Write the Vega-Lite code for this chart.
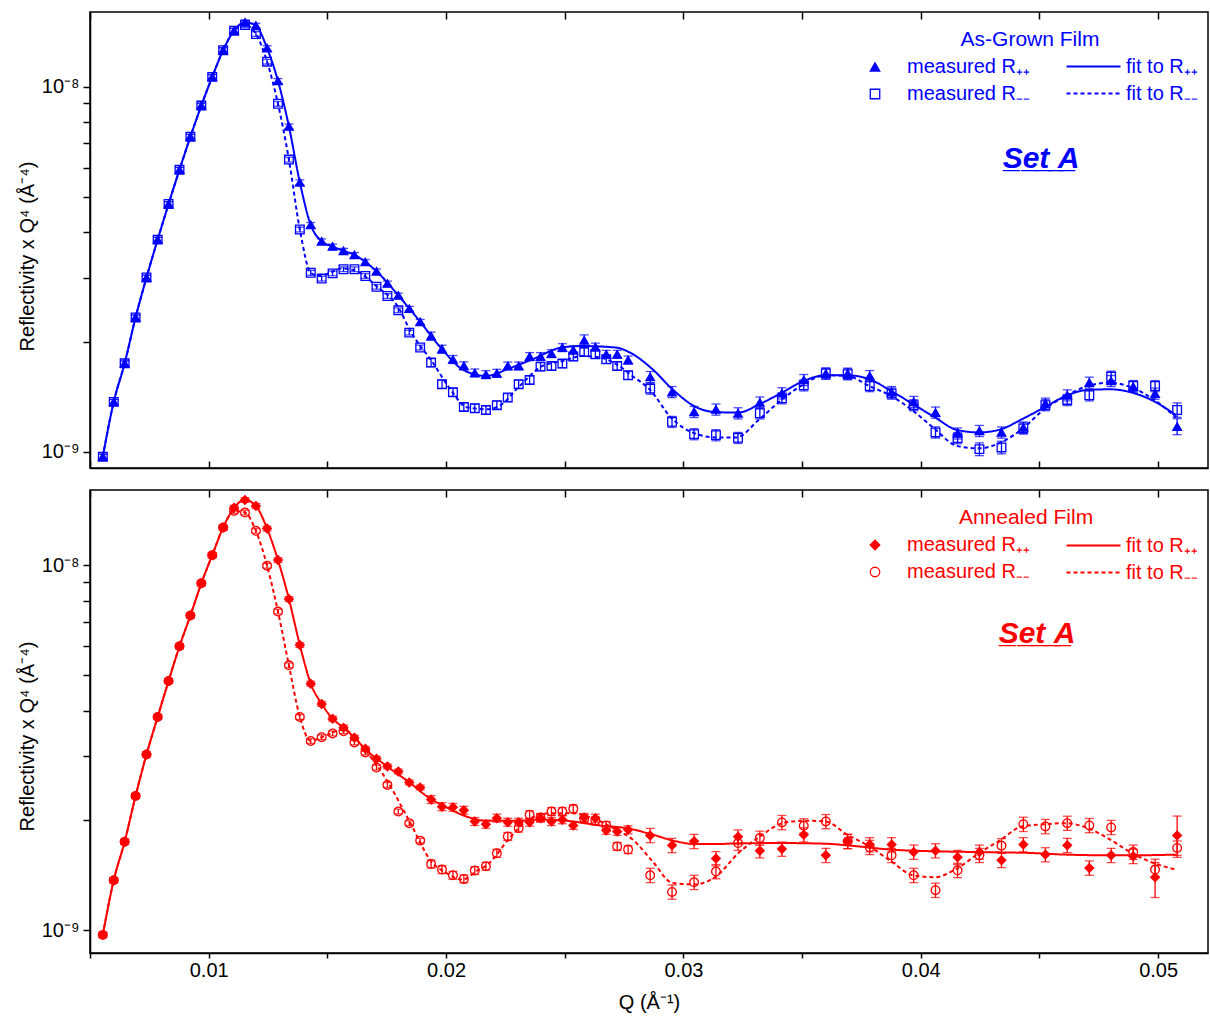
{
  "$schema": "https://vega.github.io/schema/vega-lite/v6.json",
  "padding": {"left": 16, "top": 10, "right": 0, "bottom": 3},
  "config": {
    "font": "Liberation Sans",
    "view": {"stroke": "#000000", "strokeWidth": 1.5},
    "axis": {
      "grid": false, "domainColor": "#000000", "domainWidth": 1.5,
      "tickColor": "#000000", "tickWidth": 1.5,
      "labelColor": "#000000", "titleColor": "#000000",
      "labelFont": "Liberation Sans", "titleFont": "Liberation Sans",
      "labelFontSize": 20, "titleFontSize": 20, "titleFontWeight": "normal"
    },
    "legend": {"labelFont": "Liberation Sans", "labelFontSize": 20, "labelLimit": 400}
  },
  "datasets": {
    "grown": [
      {"Q":0.00554,"s":"pp","R":9.7e-10,"e":1.5e-11},{"Q":0.00600,"s":"pp","R":1.37e-9,"e":2.1e-11},{"Q":0.00646,"s":"pp","R":1.747e-9,"e":2.6e-11},{"Q":0.00692,"s":"pp","R":2.333e-9,"e":3.5e-11},{"Q":0.00738,"s":"pp","R":3.0e-9,"e":4.5e-11},{"Q":0.00785,"s":"pp","R":3.81e-9,"e":5.7e-11},{"Q":0.00831,"s":"pp","R":4.77e-9,"e":7.2e-11},{"Q":0.00877,"s":"pp","R":5.92e-9,"e":8.9e-11},{"Q":0.00923,"s":"pp","R":7.29e-9,"e":1.09e-10},{"Q":0.00969,"s":"pp","R":8.87e-9,"e":1.33e-10},
      {"Q":0.01015,"s":"pp","R":1.063e-8,"e":1.59e-10},{"Q":0.01061,"s":"pp","R":1.258e-8,"e":1.89e-10},{"Q":0.01107,"s":"pp","R":1.422e-8,"e":2.13e-10},{"Q":0.01153,"s":"pp","R":1.5e-8,"e":2.25e-10},{"Q":0.01199,"s":"pp","R":1.468e-8,"e":2.2e-10},{"Q":0.01246,"s":"pp","R":1.274e-8,"e":1.91e-10},{"Q":0.01292,"s":"pp","R":1.036e-8,"e":1.55e-10},{"Q":0.01338,"s":"pp","R":7.78e-9,"e":1.17e-10},{"Q":0.01384,"s":"pp","R":5.47e-9,"e":8.2e-11},{"Q":0.01430,"s":"pp","R":4.18e-9,"e":6.3e-11},
      {"Q":0.01476,"s":"pp","R":3.77e-9,"e":5.7e-11},{"Q":0.01522,"s":"pp","R":3.65e-9,"e":5.5e-11},{"Q":0.01568,"s":"pp","R":3.55e-9,"e":5.3e-11},{"Q":0.01614,"s":"pp","R":3.46e-9,"e":5.2e-11},{"Q":0.01660,"s":"pp","R":3.31e-9,"e":5.0e-11},{"Q":0.01707,"s":"pp","R":3.12e-9,"e":4.7e-11},{"Q":0.01753,"s":"pp","R":2.89e-9,"e":4.3e-11},{"Q":0.01799,"s":"pp","R":2.68e-9,"e":4.0e-11},{"Q":0.01845,"s":"pp","R":2.465e-9,"e":3.7e-11},{"Q":0.01891,"s":"pp","R":2.27e-9,"e":3.4e-11},
      {"Q":0.01937,"s":"pp","R":2.075e-9,"e":5.2e-11},{"Q":0.01983,"s":"pp","R":1.91e-9,"e":4.8e-11},{"Q":0.02029,"s":"pp","R":1.79e-9,"e":4.5e-11},{"Q":0.02075,"s":"pp","R":1.72e-9,"e":4.3e-11},{"Q":0.02121,"s":"pp","R":1.644e-9,"e":4.1e-11},{"Q":0.02168,"s":"pp","R":1.627e-9,"e":4.1e-11},{"Q":0.02214,"s":"pp","R":1.641e-9,"e":4.1e-11},{"Q":0.02260,"s":"pp","R":1.718e-9,"e":4.3e-11},{"Q":0.02306,"s":"pp","R":1.718e-9,"e":4.3e-11},{"Q":0.02352,"s":"pp","R":1.823e-9,"e":4.6e-11},
      {"Q":0.02398,"s":"pp","R":1.823e-9,"e":4.6e-11},{"Q":0.02444,"s":"pp","R":1.857e-9,"e":4.6e-11},{"Q":0.02490,"s":"pp","R":1.929e-9,"e":4.8e-11},{"Q":0.02536,"s":"pp","R":1.9e-9,"e":4.8e-11},{"Q":0.02582,"s":"pp","R":2.02e-9,"e":7.0e-11},{"Q":0.02629,"s":"pp","R":1.936e-9,"e":4.8e-11},{"Q":0.02675,"s":"pp","R":1.849e-9,"e":4.6e-11},{"Q":0.02721,"s":"pp","R":1.849e-9,"e":4.6e-11},{"Q":0.02767,"s":"pp","R":1.784e-9,"e":4.5e-11},
      {"Q":0.02860,"s":"pp","R":1.603e-9,"e":5.6e-11},{"Q":0.02952,"s":"pp","R":1.458e-9,"e":5.1e-11},{"Q":0.03045,"s":"pp","R":1.286e-9,"e":4.5e-11},{"Q":0.03137,"s":"pp","R":1.306e-9,"e":4.6e-11},{"Q":0.03230,"s":"pp","R":1.275e-9,"e":4.5e-11},{"Q":0.03322,"s":"pp","R":1.365e-9,"e":4.8e-11},{"Q":0.03415,"s":"pp","R":1.447e-9,"e":5.1e-11},{"Q":0.03507,"s":"pp","R":1.573e-9,"e":5.5e-11},{"Q":0.03600,"s":"pp","R":1.638e-9,"e":5.7e-11},{"Q":0.03692,"s":"pp","R":1.638e-9,"e":5.7e-11},
      {"Q":0.03785,"s":"pp","R":1.613e-9,"e":5.6e-11},{"Q":0.03877,"s":"pp","R":1.458e-9,"e":5.1e-11},{"Q":0.03970,"s":"pp","R":1.37e-9,"e":4.8e-11},{"Q":0.04062,"s":"pp","R":1.281e-9,"e":4.5e-11},{"Q":0.04155,"s":"pp","R":1.123e-9,"e":3.9e-11},{"Q":0.04247,"s":"pp","R":1.141e-9,"e":4.0e-11},{"Q":0.04340,"s":"pp","R":1.13e-9,"e":4.0e-11},{"Q":0.04432,"s":"pp","R":1.166e-9,"e":4.1e-11},{"Q":0.04525,"s":"pp","R":1.356e-9,"e":4.7e-11},{"Q":0.04617,"s":"pp","R":1.428e-9,"e":5.0e-11},
      {"Q":0.04710,"s":"pp","R":1.547e-9,"e":5.4e-11},{"Q":0.04802,"s":"pp","R":1.563e-9,"e":5.5e-11},{"Q":0.04895,"s":"pp","R":1.509e-9,"e":5.3e-11},{"Q":0.04987,"s":"pp","R":1.444e-9,"e":5.1e-11},{"Q":0.05080,"s":"pp","R":1.173e-9,"e":5.9e-11},

      {"Q":0.00554,"s":"mm","R":9.7e-10,"e":1.5e-11},{"Q":0.00600,"s":"mm","R":1.37e-9,"e":2.1e-11},{"Q":0.00646,"s":"mm","R":1.747e-9,"e":2.6e-11},{"Q":0.00692,"s":"mm","R":2.333e-9,"e":3.5e-11},{"Q":0.00738,"s":"mm","R":3.0e-9,"e":4.5e-11},{"Q":0.00785,"s":"mm","R":3.81e-9,"e":5.7e-11},{"Q":0.00831,"s":"mm","R":4.77e-9,"e":7.2e-11},{"Q":0.00877,"s":"mm","R":5.92e-9,"e":8.9e-11},{"Q":0.00923,"s":"mm","R":7.29e-9,"e":1.09e-10},{"Q":0.00969,"s":"mm","R":8.87e-9,"e":1.33e-10},
      {"Q":0.01015,"s":"mm","R":1.063e-8,"e":1.59e-10},{"Q":0.01061,"s":"mm","R":1.258e-8,"e":1.89e-10},{"Q":0.01107,"s":"mm","R":1.422e-8,"e":2.13e-10},{"Q":0.01153,"s":"mm","R":1.475e-8,"e":2.21e-10},{"Q":0.01199,"s":"mm","R":1.393e-8,"e":2.09e-10},{"Q":0.01246,"s":"mm","R":1.17e-8,"e":1.76e-10},{"Q":0.01292,"s":"mm","R":8.97e-9,"e":1.35e-10},{"Q":0.01338,"s":"mm","R":6.31e-9,"e":9.5e-11},{"Q":0.01384,"s":"mm","R":4.06e-9,"e":6.1e-11},{"Q":0.01430,"s":"mm","R":3.09e-9,"e":4.6e-11},
      {"Q":0.01476,"s":"mm","R":2.98e-9,"e":4.5e-11},{"Q":0.01522,"s":"mm","R":3.08e-9,"e":4.6e-11},{"Q":0.01568,"s":"mm","R":3.16e-9,"e":4.7e-11},{"Q":0.01614,"s":"mm","R":3.16e-9,"e":4.7e-11},{"Q":0.01660,"s":"mm","R":3.03e-9,"e":4.5e-11},{"Q":0.01707,"s":"mm","R":2.83e-9,"e":4.2e-11},{"Q":0.01753,"s":"mm","R":2.67e-9,"e":4.0e-11},{"Q":0.01799,"s":"mm","R":2.44e-9,"e":3.7e-11},{"Q":0.01845,"s":"mm","R":2.12e-9,"e":3.2e-11},{"Q":0.01891,"s":"mm","R":1.93e-9,"e":2.9e-11},
      {"Q":0.01937,"s":"mm","R":1.755e-9,"e":4.4e-11},{"Q":0.01983,"s":"mm","R":1.531e-9,"e":3.8e-11},{"Q":0.02029,"s":"mm","R":1.456e-9,"e":3.6e-11},{"Q":0.02075,"s":"mm","R":1.327e-9,"e":3.3e-11},{"Q":0.02121,"s":"mm","R":1.316e-9,"e":3.3e-11},{"Q":0.02168,"s":"mm","R":1.302e-9,"e":3.3e-11},{"Q":0.02214,"s":"mm","R":1.342e-9,"e":3.4e-11},{"Q":0.02260,"s":"mm","R":1.408e-9,"e":3.5e-11},{"Q":0.02306,"s":"mm","R":1.531e-9,"e":3.8e-11},{"Q":0.02352,"s":"mm","R":1.573e-9,"e":3.9e-11},
      {"Q":0.02398,"s":"mm","R":1.711e-9,"e":4.3e-11},{"Q":0.02444,"s":"mm","R":1.718e-9,"e":4.3e-11},{"Q":0.02490,"s":"mm","R":1.744e-9,"e":4.4e-11},{"Q":0.02536,"s":"mm","R":1.823e-9,"e":4.6e-11},{"Q":0.02582,"s":"mm","R":1.876e-9,"e":4.7e-11},{"Q":0.02629,"s":"mm","R":1.849e-9,"e":4.6e-11},{"Q":0.02675,"s":"mm","R":1.792e-9,"e":4.5e-11},{"Q":0.02721,"s":"mm","R":1.718e-9,"e":4.3e-11},{"Q":0.02767,"s":"mm","R":1.62e-9,"e":4.1e-11},
      {"Q":0.02860,"s":"mm","R":1.49e-9,"e":5.2e-11},{"Q":0.02952,"s":"mm","R":1.208e-9,"e":4.2e-11},{"Q":0.03045,"s":"mm","R":1.118e-9,"e":3.9e-11},{"Q":0.03137,"s":"mm","R":1.111e-9,"e":3.9e-11},{"Q":0.03230,"s":"mm","R":1.092e-9,"e":3.8e-11},{"Q":0.03322,"s":"mm","R":1.275e-9,"e":4.5e-11},{"Q":0.03415,"s":"mm","R":1.402e-9,"e":4.9e-11},{"Q":0.03507,"s":"mm","R":1.521e-9,"e":5.3e-11},{"Q":0.03600,"s":"mm","R":1.638e-9,"e":5.7e-11},{"Q":0.03692,"s":"mm","R":1.631e-9,"e":5.7e-11},
      {"Q":0.03785,"s":"mm","R":1.514e-9,"e":5.3e-11},{"Q":0.03877,"s":"mm","R":1.444e-9,"e":5.1e-11},{"Q":0.03970,"s":"mm","R":1.342e-9,"e":4.7e-11},{"Q":0.04062,"s":"mm","R":1.13e-9,"e":4.0e-11},{"Q":0.04155,"s":"mm","R":1.09e-9,"e":3.8e-11},{"Q":0.04247,"s":"mm","R":1.017e-9,"e":4.1e-11},{"Q":0.04340,"s":"mm","R":1.028e-9,"e":4.1e-11},{"Q":0.04432,"s":"mm","R":1.159e-9,"e":4.1e-11},{"Q":0.04525,"s":"mm","R":1.342e-9,"e":4.7e-11},{"Q":0.04617,"s":"mm","R":1.387e-9,"e":4.9e-11},
      {"Q":0.04710,"s":"mm","R":1.428e-9,"e":5.0e-11},{"Q":0.04802,"s":"mm","R":1.607e-9,"e":5.6e-11},{"Q":0.04895,"s":"mm","R":1.514e-9,"e":5.3e-11},{"Q":0.04987,"s":"mm","R":1.514e-9,"e":5.3e-11},{"Q":0.05080,"s":"mm","R":1.302e-9,"e":5.9e-11}
    ],
    "grownFit": [
      {"Q":0.00554,"f":"fpp","R":9.7e-10},{"Q":0.00600,"f":"fpp","R":1.37e-9},{"Q":0.00646,"f":"fpp","R":1.747e-9},{"Q":0.00692,"f":"fpp","R":2.333e-9},{"Q":0.00738,"f":"fpp","R":3.0e-9},{"Q":0.00785,"f":"fpp","R":3.81e-9},{"Q":0.00831,"f":"fpp","R":4.77e-9},{"Q":0.00877,"f":"fpp","R":5.92e-9},{"Q":0.00923,"f":"fpp","R":7.29e-9},{"Q":0.00969,"f":"fpp","R":8.87e-9},
      {"Q":0.01015,"f":"fpp","R":1.063e-8},{"Q":0.01061,"f":"fpp","R":1.258e-8},{"Q":0.01107,"f":"fpp","R":1.422e-8},{"Q":0.01153,"f":"fpp","R":1.5e-8},{"Q":0.01199,"f":"fpp","R":1.468e-8},{"Q":0.01246,"f":"fpp","R":1.274e-8},{"Q":0.01292,"f":"fpp","R":1.036e-8},{"Q":0.01338,"f":"fpp","R":7.78e-9},{"Q":0.01384,"f":"fpp","R":5.47e-9},{"Q":0.01430,"f":"fpp","R":4.18e-9},
      {"Q":0.01476,"f":"fpp","R":3.77e-9},{"Q":0.01522,"f":"fpp","R":3.65e-9},{"Q":0.01568,"f":"fpp","R":3.55e-9},{"Q":0.01614,"f":"fpp","R":3.46e-9},{"Q":0.01707,"f":"fpp","R":3.12e-9},{"Q":0.01799,"f":"fpp","R":2.68e-9},{"Q":0.01891,"f":"fpp","R":2.27e-9},{"Q":0.01983,"f":"fpp","R":1.91e-9},{"Q":0.02075,"f":"fpp","R":1.672e-9},{"Q":0.02169,"f":"fpp","R":1.613e-9},
      {"Q":0.02267,"f":"fpp","R":1.693e-9},{"Q":0.02364,"f":"fpp","R":1.792e-9},{"Q":0.02491,"f":"fpp","R":1.932e-9},{"Q":0.02575,"f":"fpp","R":1.948e-9},{"Q":0.02717,"f":"fpp","R":1.929e-9},{"Q":0.02773,"f":"fpp","R":1.872e-9},{"Q":0.02870,"f":"fpp","R":1.683e-9},{"Q":0.02954,"f":"fpp","R":1.483e-9},{"Q":0.03054,"f":"fpp","R":1.325e-9},{"Q":0.03138,"f":"fpp","R":1.284e-9},
      {"Q":0.03232,"f":"fpp","R":1.281e-9},{"Q":0.03320,"f":"fpp","R":1.35e-9},{"Q":0.03416,"f":"fpp","R":1.453e-9},{"Q":0.03507,"f":"fpp","R":1.563e-9},{"Q":0.03598,"f":"fpp","R":1.62e-9},{"Q":0.03691,"f":"fpp","R":1.62e-9},{"Q":0.03783,"f":"fpp","R":1.58e-9},{"Q":0.03875,"f":"fpp","R":1.468e-9},{"Q":0.03968,"f":"fpp","R":1.35e-9},{"Q":0.04060,"f":"fpp","R":1.242e-9},
      {"Q":0.04152,"f":"fpp","R":1.148e-9},{"Q":0.04246,"f":"fpp","R":1.13e-9},{"Q":0.04338,"f":"fpp","R":1.153e-9},{"Q":0.04426,"f":"fpp","R":1.228e-9},{"Q":0.04520,"f":"fpp","R":1.322e-9},{"Q":0.04611,"f":"fpp","R":1.422e-9},{"Q":0.04702,"f":"fpp","R":1.477e-9},{"Q":0.04798,"f":"fpp","R":1.483e-9},{"Q":0.04889,"f":"fpp","R":1.453e-9},{"Q":0.04980,"f":"fpp","R":1.378e-9},{"Q":0.05075,"f":"fpp","R":1.26e-9},

      {"Q":0.00554,"f":"fmm","R":9.7e-10},{"Q":0.00600,"f":"fmm","R":1.37e-9},{"Q":0.00646,"f":"fmm","R":1.747e-9},{"Q":0.00692,"f":"fmm","R":2.333e-9},{"Q":0.00738,"f":"fmm","R":3.0e-9},{"Q":0.00785,"f":"fmm","R":3.81e-9},{"Q":0.00831,"f":"fmm","R":4.77e-9},{"Q":0.00877,"f":"fmm","R":5.92e-9},{"Q":0.00923,"f":"fmm","R":7.29e-9},{"Q":0.00969,"f":"fmm","R":8.87e-9},
      {"Q":0.01015,"f":"fmm","R":1.063e-8},{"Q":0.01061,"f":"fmm","R":1.258e-8},{"Q":0.01107,"f":"fmm","R":1.422e-8},{"Q":0.01153,"f":"fmm","R":1.475e-8},{"Q":0.01199,"f":"fmm","R":1.393e-8},{"Q":0.01246,"f":"fmm","R":1.17e-8},{"Q":0.01292,"f":"fmm","R":8.97e-9},{"Q":0.01338,"f":"fmm","R":6.31e-9},{"Q":0.01384,"f":"fmm","R":4.06e-9},{"Q":0.01430,"f":"fmm","R":3.09e-9},
      {"Q":0.01467,"f":"fmm","R":3.03e-9},{"Q":0.01564,"f":"fmm","R":3.176e-9},{"Q":0.01623,"f":"fmm","R":3.123e-9},{"Q":0.01707,"f":"fmm","R":2.842e-9},{"Q":0.01804,"f":"fmm","R":2.454e-9},{"Q":0.01846,"f":"fmm","R":2.164e-9},{"Q":0.01943,"f":"fmm","R":1.759e-9},{"Q":0.02027,"f":"fmm","R":1.456e-9},{"Q":0.02086,"f":"fmm","R":1.325e-9},{"Q":0.02171,"f":"fmm","R":1.308e-9},
      {"Q":0.02225,"f":"fmm","R":1.336e-9},{"Q":0.02310,"f":"fmm","R":1.514e-9},{"Q":0.02406,"f":"fmm","R":1.718e-9},{"Q":0.02491,"f":"fmm","R":1.773e-9},{"Q":0.02575,"f":"fmm","R":1.829e-9},{"Q":0.02646,"f":"fmm","R":1.814e-9},{"Q":0.02718,"f":"fmm","R":1.736e-9},{"Q":0.02785,"f":"fmm","R":1.613e-9},{"Q":0.02857,"f":"fmm","R":1.483e-9},{"Q":0.02954,"f":"fmm","R":1.228e-9},
      {"Q":0.03038,"f":"fmm","R":1.13e-9},{"Q":0.03138,"f":"fmm","R":1.095e-9},{"Q":0.03222,"f":"fmm","R":1.095e-9},{"Q":0.03320,"f":"fmm","R":1.228e-9},{"Q":0.03416,"f":"fmm","R":1.393e-9},{"Q":0.03507,"f":"fmm","R":1.531e-9},{"Q":0.03598,"f":"fmm","R":1.62e-9},{"Q":0.03691,"f":"fmm","R":1.613e-9},{"Q":0.03783,"f":"fmm","R":1.514e-9},{"Q":0.03875,"f":"fmm","R":1.422e-9},
      {"Q":0.03968,"f":"fmm","R":1.294e-9},{"Q":0.04060,"f":"fmm","R":1.153e-9},{"Q":0.04152,"f":"fmm","R":1.038e-9},{"Q":0.04246,"f":"fmm","R":1.022e-9},{"Q":0.04338,"f":"fmm","R":1.061e-9},{"Q":0.04426,"f":"fmm","R":1.153e-9},{"Q":0.04520,"f":"fmm","R":1.308e-9},{"Q":0.04611,"f":"fmm","R":1.422e-9},{"Q":0.04702,"f":"fmm","R":1.514e-9},{"Q":0.04798,"f":"fmm","R":1.547e-9},
      {"Q":0.04889,"f":"fmm","R":1.5e-9},{"Q":0.04980,"f":"fmm","R":1.393e-9},{"Q":0.05075,"f":"fmm","R":1.242e-9}
    ],
    "annealed": [
      {"Q":0.00554,"s":"pp","R":9.7e-10,"e":1.5e-11},{"Q":0.00600,"s":"pp","R":1.37e-9,"e":2.1e-11},{"Q":0.00646,"s":"pp","R":1.747e-9,"e":2.6e-11},{"Q":0.00692,"s":"pp","R":2.333e-9,"e":3.5e-11},{"Q":0.00738,"s":"pp","R":3.03e-9,"e":4.5e-11},{"Q":0.00785,"s":"pp","R":3.84e-9,"e":5.8e-11},{"Q":0.00831,"s":"pp","R":4.82e-9,"e":7.2e-11},{"Q":0.00877,"s":"pp","R":6.0e-9,"e":9.0e-11},{"Q":0.00923,"s":"pp","R":7.29e-9,"e":1.09e-10},{"Q":0.00969,"s":"pp","R":8.93e-9,"e":1.34e-10},
      {"Q":0.01015,"s":"pp","R":1.067e-8,"e":1.6e-10},{"Q":0.01061,"s":"pp","R":1.27e-8,"e":1.9e-10},{"Q":0.01107,"s":"pp","R":1.44e-8,"e":2.16e-10},{"Q":0.01153,"s":"pp","R":1.512e-8,"e":2.27e-10},{"Q":0.01199,"s":"pp","R":1.456e-8,"e":2.18e-10},{"Q":0.01246,"s":"pp","R":1.262e-8,"e":1.89e-10},{"Q":0.01292,"s":"pp","R":1.034e-8,"e":1.55e-10},{"Q":0.01338,"s":"pp","R":8.09e-9,"e":1.21e-10},{"Q":0.01384,"s":"pp","R":6.05e-9,"e":9.1e-11},{"Q":0.01430,"s":"pp","R":4.74e-9,"e":7.1e-11},
      {"Q":0.01476,"s":"pp","R":4.17e-9,"e":6.3e-11},{"Q":0.01522,"s":"pp","R":3.8e-9,"e":5.7e-11},{"Q":0.01568,"s":"pp","R":3.59e-9,"e":5.4e-11},{"Q":0.01614,"s":"pp","R":3.37e-9,"e":5.1e-11},{"Q":0.01660,"s":"pp","R":3.14e-9,"e":4.7e-11},{"Q":0.01707,"s":"pp","R":2.95e-9,"e":4.4e-11},{"Q":0.01753,"s":"pp","R":2.81e-9,"e":4.2e-11},{"Q":0.01799,"s":"pp","R":2.72e-9,"e":4.1e-11},{"Q":0.01845,"s":"pp","R":2.54e-9,"e":3.8e-11},{"Q":0.01891,"s":"pp","R":2.46e-9,"e":3.7e-11},
      {"Q":0.01937,"s":"pp","R":2.28e-9,"e":5.7e-11},{"Q":0.01983,"s":"pp","R":2.18e-9,"e":5.5e-11},{"Q":0.02029,"s":"pp","R":2.17e-9,"e":5.4e-11},{"Q":0.02075,"s":"pp","R":2.13e-9,"e":5.3e-11},{"Q":0.02121,"s":"pp","R":1.985e-9,"e":5.0e-11},{"Q":0.02168,"s":"pp","R":1.951e-9,"e":4.9e-11},{"Q":0.02214,"s":"pp","R":2.027e-9,"e":5.1e-11},{"Q":0.02260,"s":"pp","R":1.976e-9,"e":4.9e-11},{"Q":0.02306,"s":"pp","R":1.976e-9,"e":4.9e-11},{"Q":0.02352,"s":"pp","R":1.976e-9,"e":4.9e-11},
      {"Q":0.02398,"s":"pp","R":2.027e-9,"e":5.1e-11},{"Q":0.02444,"s":"pp","R":1.985e-9,"e":5.0e-11},{"Q":0.02490,"s":"pp","R":2.007e-9,"e":5.0e-11},{"Q":0.02536,"s":"pp","R":1.936e-9,"e":4.8e-11},{"Q":0.02582,"s":"pp","R":2.036e-9,"e":5.1e-11},{"Q":0.02629,"s":"pp","R":2.027e-9,"e":5.1e-11},{"Q":0.02675,"s":"pp","R":1.876e-9,"e":4.7e-11},{"Q":0.02721,"s":"pp","R":1.864e-9,"e":4.7e-11},{"Q":0.02767,"s":"pp","R":1.884e-9,"e":4.7e-11},
      {"Q":0.02860,"s":"pp","R":1.818e-9,"e":8.2e-11},{"Q":0.02952,"s":"pp","R":1.707e-9,"e":7.7e-11},{"Q":0.03045,"s":"pp","R":1.751e-9,"e":7.9e-11},{"Q":0.03137,"s":"pp","R":1.57e-9,"e":7.1e-11},{"Q":0.03230,"s":"pp","R":1.801e-9,"e":8.1e-11},{"Q":0.03322,"s":"pp","R":1.651e-9,"e":7.4e-11},{"Q":0.03415,"s":"pp","R":1.668e-9,"e":7.5e-11},{"Q":0.03507,"s":"pp","R":1.826e-9,"e":8.2e-11},{"Q":0.03600,"s":"pp","R":1.603e-9,"e":7.2e-11},{"Q":0.03692,"s":"pp","R":1.751e-9,"e":7.9e-11},
      {"Q":0.03785,"s":"pp","R":1.715e-9,"e":7.7e-11},{"Q":0.03877,"s":"pp","R":1.715e-9,"e":7.7e-11},{"Q":0.03970,"s":"pp","R":1.636e-9,"e":7.4e-11},{"Q":0.04062,"s":"pp","R":1.651e-9,"e":7.4e-11},{"Q":0.04155,"s":"pp","R":1.583e-9,"e":7.1e-11},{"Q":0.04247,"s":"pp","R":1.636e-9,"e":7.4e-11},{"Q":0.04340,"s":"pp","R":1.553e-9,"e":7.0e-11},{"Q":0.04432,"s":"pp","R":1.715e-9,"e":7.7e-11},{"Q":0.04525,"s":"pp","R":1.61e-9,"e":7.2e-11},{"Q":0.04617,"s":"pp","R":1.707e-9,"e":7.7e-11},
      {"Q":0.04710,"s":"pp","R":1.48e-9,"e":6.7e-11},{"Q":0.04802,"s":"pp","R":1.603e-9,"e":7.2e-11},{"Q":0.04895,"s":"pp","R":1.593e-9,"e":7.2e-11},{"Q":0.04987,"s":"pp","R":1.396e-9,"e":1.68e-10},{"Q":0.05080,"s":"pp","R":1.818e-9,"e":2.36e-10},

      {"Q":0.00554,"s":"mm","R":9.7e-10,"e":1.5e-11},{"Q":0.00600,"s":"mm","R":1.37e-9,"e":2.1e-11},{"Q":0.00646,"s":"mm","R":1.747e-9,"e":2.6e-11},{"Q":0.00692,"s":"mm","R":2.333e-9,"e":3.5e-11},{"Q":0.00738,"s":"mm","R":3.03e-9,"e":4.5e-11},{"Q":0.00785,"s":"mm","R":3.84e-9,"e":5.8e-11},{"Q":0.00831,"s":"mm","R":4.82e-9,"e":7.2e-11},{"Q":0.00877,"s":"mm","R":6.0e-9,"e":9.0e-11},{"Q":0.00923,"s":"mm","R":7.29e-9,"e":1.09e-10},{"Q":0.00969,"s":"mm","R":8.93e-9,"e":1.34e-10},
      {"Q":0.01015,"s":"mm","R":1.067e-8,"e":1.6e-10},{"Q":0.01061,"s":"mm","R":1.27e-8,"e":1.9e-10},{"Q":0.01107,"s":"mm","R":1.411e-8,"e":2.12e-10},{"Q":0.01153,"s":"mm","R":1.396e-8,"e":2.09e-10},{"Q":0.01199,"s":"mm","R":1.244e-8,"e":1.87e-10},{"Q":0.01246,"s":"mm","R":9.98e-9,"e":1.5e-10},{"Q":0.01292,"s":"mm","R":7.47e-9,"e":1.12e-10},{"Q":0.01338,"s":"mm","R":5.32e-9,"e":8.0e-11},{"Q":0.01384,"s":"mm","R":3.84e-9,"e":5.8e-11},{"Q":0.01430,"s":"mm","R":3.3e-9,"e":5.0e-11},
      {"Q":0.01476,"s":"mm","R":3.38e-9,"e":5.1e-11},{"Q":0.01522,"s":"mm","R":3.46e-9,"e":5.2e-11},{"Q":0.01568,"s":"mm","R":3.51e-9,"e":5.3e-11},{"Q":0.01614,"s":"mm","R":3.27e-9,"e":4.9e-11},{"Q":0.01660,"s":"mm","R":3.07e-9,"e":4.6e-11},{"Q":0.01707,"s":"mm","R":2.79e-9,"e":4.2e-11},{"Q":0.01753,"s":"mm","R":2.5e-9,"e":3.8e-11},{"Q":0.01799,"s":"mm","R":2.114e-9,"e":3.2e-11},{"Q":0.01845,"s":"mm","R":1.964e-9,"e":2.9e-11},{"Q":0.01891,"s":"mm","R":1.759e-9,"e":2.6e-11},
      {"Q":0.01937,"s":"mm","R":1.517e-9,"e":3.8e-11},{"Q":0.01983,"s":"mm","R":1.465e-9,"e":3.7e-11},{"Q":0.02029,"s":"mm","R":1.413e-9,"e":3.5e-11},{"Q":0.02075,"s":"mm","R":1.381e-9,"e":3.5e-11},{"Q":0.02121,"s":"mm","R":1.456e-9,"e":3.6e-11},{"Q":0.02168,"s":"mm","R":1.496e-9,"e":3.7e-11},{"Q":0.02214,"s":"mm","R":1.623e-9,"e":4.1e-11},{"Q":0.02260,"s":"mm","R":1.806e-9,"e":4.5e-11},{"Q":0.02306,"s":"mm","R":1.904e-9,"e":4.8e-11},{"Q":0.02352,"s":"mm","R":2.071e-9,"e":5.2e-11},
      {"Q":0.02398,"s":"mm","R":2.036e-9,"e":5.1e-11},{"Q":0.02444,"s":"mm","R":2.114e-9,"e":5.3e-11},{"Q":0.02490,"s":"mm","R":2.114e-9,"e":5.3e-11},{"Q":0.02536,"s":"mm","R":2.15e-9,"e":5.4e-11},{"Q":0.02582,"s":"mm","R":2.02e-9,"e":5.1e-11},{"Q":0.02629,"s":"mm","R":1.994e-9,"e":5.0e-11},{"Q":0.02675,"s":"mm","R":1.936e-9,"e":4.8e-11},{"Q":0.02721,"s":"mm","R":1.696e-9,"e":4.2e-11},{"Q":0.02767,"s":"mm","R":1.662e-9,"e":4.2e-11},
      {"Q":0.02860,"s":"mm","R":1.413e-9,"e":6.4e-11},{"Q":0.02952,"s":"mm","R":1.272e-9,"e":5.7e-11},{"Q":0.03045,"s":"mm","R":1.352e-9,"e":6.1e-11},{"Q":0.03137,"s":"mm","R":1.447e-9,"e":6.5e-11},{"Q":0.03230,"s":"mm","R":1.732e-9,"e":7.8e-11},{"Q":0.03322,"s":"mm","R":1.787e-9,"e":8.0e-11},{"Q":0.03415,"s":"mm","R":1.973e-9,"e":8.9e-11},{"Q":0.03507,"s":"mm","R":1.932e-9,"e":8.7e-11},{"Q":0.03600,"s":"mm","R":1.985e-9,"e":8.9e-11},{"Q":0.03692,"s":"mm","R":1.751e-9,"e":7.9e-11},
      {"Q":0.03785,"s":"mm","R":1.686e-9,"e":7.6e-11},{"Q":0.03877,"s":"mm","R":1.603e-9,"e":7.2e-11},{"Q":0.03970,"s":"mm","R":1.413e-9,"e":6.4e-11},{"Q":0.04062,"s":"mm","R":1.286e-9,"e":5.8e-11},{"Q":0.04155,"s":"mm","R":1.458e-9,"e":6.6e-11},{"Q":0.04247,"s":"mm","R":1.603e-9,"e":7.2e-11},{"Q":0.04340,"s":"mm","R":1.704e-9,"e":7.7e-11},{"Q":0.04432,"s":"mm","R":1.951e-9,"e":8.8e-11},{"Q":0.04525,"s":"mm","R":1.924e-9,"e":8.7e-11},{"Q":0.04617,"s":"mm","R":1.964e-9,"e":8.8e-11},
      {"Q":0.04710,"s":"mm","R":1.936e-9,"e":8.7e-11},{"Q":0.04802,"s":"mm","R":1.912e-9,"e":8.6e-11},{"Q":0.04895,"s":"mm","R":1.636e-9,"e":7.4e-11},{"Q":0.04987,"s":"mm","R":1.465e-9,"e":6.6e-11},{"Q":0.05080,"s":"mm","R":1.679e-9,"e":7.6e-11}
    ],
    "annealedFit": [
      {"Q":0.00554,"f":"fpp","R":9.7e-10},{"Q":0.00600,"f":"fpp","R":1.37e-9},{"Q":0.00646,"f":"fpp","R":1.747e-9},{"Q":0.00692,"f":"fpp","R":2.333e-9},{"Q":0.00738,"f":"fpp","R":3.03e-9},{"Q":0.00785,"f":"fpp","R":3.84e-9},{"Q":0.00831,"f":"fpp","R":4.82e-9},{"Q":0.00877,"f":"fpp","R":6.0e-9},{"Q":0.00923,"f":"fpp","R":7.29e-9},{"Q":0.00969,"f":"fpp","R":8.93e-9},
      {"Q":0.01015,"f":"fpp","R":1.067e-8},{"Q":0.01061,"f":"fpp","R":1.27e-8},{"Q":0.01107,"f":"fpp","R":1.44e-8},{"Q":0.01153,"f":"fpp","R":1.512e-8},{"Q":0.01199,"f":"fpp","R":1.456e-8},{"Q":0.01246,"f":"fpp","R":1.262e-8},{"Q":0.01292,"f":"fpp","R":1.034e-8},{"Q":0.01338,"f":"fpp","R":8.09e-9},{"Q":0.01384,"f":"fpp","R":6.05e-9},{"Q":0.01430,"f":"fpp","R":4.74e-9},
      {"Q":0.01476,"f":"fpp","R":4.17e-9},{"Q":0.01522,"f":"fpp","R":3.8e-9},{"Q":0.01568,"f":"fpp","R":3.59e-9},{"Q":0.01614,"f":"fpp","R":3.37e-9},{"Q":0.01660,"f":"fpp","R":3.136e-9},{"Q":0.01753,"f":"fpp","R":2.806e-9},{"Q":0.01845,"f":"fpp","R":2.542e-9},{"Q":0.01937,"f":"fpp","R":2.284e-9},{"Q":0.01987,"f":"fpp","R":2.195e-9},{"Q":0.02085,"f":"fpp","R":2.049e-9},
      {"Q":0.02169,"f":"fpp","R":1.994e-9},{"Q":0.02281,"f":"fpp","R":1.994e-9},{"Q":0.02408,"f":"fpp","R":2.007e-9},{"Q":0.02506,"f":"fpp","R":1.994e-9},{"Q":0.02646,"f":"fpp","R":1.936e-9},{"Q":0.02773,"f":"fpp","R":1.896e-9},{"Q":0.02871,"f":"fpp","R":1.826e-9},{"Q":0.02969,"f":"fpp","R":1.751e-9},{"Q":0.03048,"f":"fpp","R":1.721e-9},{"Q":0.03138,"f":"fpp","R":1.721e-9},
      {"Q":0.03232,"f":"fpp","R":1.729e-9},{"Q":0.03418,"f":"fpp","R":1.732e-9},{"Q":0.03598,"f":"fpp","R":1.725e-9},{"Q":0.03691,"f":"fpp","R":1.707e-9},{"Q":0.03875,"f":"fpp","R":1.662e-9},{"Q":0.04060,"f":"fpp","R":1.644e-9},{"Q":0.04246,"f":"fpp","R":1.636e-9},{"Q":0.04471,"f":"fpp","R":1.626e-9},{"Q":0.04611,"f":"fpp","R":1.61e-9},{"Q":0.04798,"f":"fpp","R":1.603e-9},{"Q":0.04889,"f":"fpp","R":1.603e-9},{"Q":0.05075,"f":"fpp","R":1.61e-9},

      {"Q":0.00554,"f":"fmm","R":9.7e-10},{"Q":0.00600,"f":"fmm","R":1.37e-9},{"Q":0.00646,"f":"fmm","R":1.747e-9},{"Q":0.00692,"f":"fmm","R":2.333e-9},{"Q":0.00738,"f":"fmm","R":3.03e-9},{"Q":0.00785,"f":"fmm","R":3.84e-9},{"Q":0.00831,"f":"fmm","R":4.82e-9},{"Q":0.00877,"f":"fmm","R":6.0e-9},{"Q":0.00923,"f":"fmm","R":7.29e-9},{"Q":0.00969,"f":"fmm","R":8.93e-9},
      {"Q":0.01015,"f":"fmm","R":1.067e-8},{"Q":0.01061,"f":"fmm","R":1.27e-8},{"Q":0.01107,"f":"fmm","R":1.411e-8},{"Q":0.01153,"f":"fmm","R":1.396e-8},{"Q":0.01199,"f":"fmm","R":1.244e-8},{"Q":0.01246,"f":"fmm","R":9.98e-9},{"Q":0.01292,"f":"fmm","R":7.47e-9},{"Q":0.01338,"f":"fmm","R":5.32e-9},{"Q":0.01384,"f":"fmm","R":3.84e-9},{"Q":0.01430,"f":"fmm","R":3.3e-9},
      {"Q":0.01476,"f":"fmm","R":3.38e-9},{"Q":0.01568,"f":"fmm","R":3.542e-9},{"Q":0.01664,"f":"fmm","R":3.084e-9},{"Q":0.01754,"f":"fmm","R":2.553e-9},{"Q":0.01846,"f":"fmm","R":1.985e-9},{"Q":0.01943,"f":"fmm","R":1.527e-9},{"Q":0.02001,"f":"fmm","R":1.434e-9},{"Q":0.02070,"f":"fmm","R":1.375e-9},{"Q":0.02127,"f":"fmm","R":1.449e-9},{"Q":0.02183,"f":"fmm","R":1.527e-9},
      {"Q":0.02267,"f":"fmm","R":1.787e-9},{"Q":0.02338,"f":"fmm","R":1.985e-9},{"Q":0.02436,"f":"fmm","R":2.091e-9},{"Q":0.02533,"f":"fmm","R":2.091e-9},{"Q":0.02617,"f":"fmm","R":2.027e-9},{"Q":0.02717,"f":"fmm","R":1.884e-9},{"Q":0.02785,"f":"fmm","R":1.773e-9},{"Q":0.02870,"f":"fmm","R":1.543e-9},{"Q":0.02954,"f":"fmm","R":1.346e-9},{"Q":0.03048,"f":"fmm","R":1.334e-9},
      {"Q":0.03138,"f":"fmm","R":1.404e-9},{"Q":0.03232,"f":"fmm","R":1.626e-9},{"Q":0.03323,"f":"fmm","R":1.806e-9},{"Q":0.03418,"f":"fmm","R":1.964e-9},{"Q":0.03507,"f":"fmm","R":1.994e-9},{"Q":0.03598,"f":"fmm","R":1.985e-9},{"Q":0.03691,"f":"fmm","R":1.826e-9},{"Q":0.03783,"f":"fmm","R":1.696e-9},{"Q":0.03875,"f":"fmm","R":1.543e-9},{"Q":0.03968,"f":"fmm","R":1.413e-9},
      {"Q":0.04060,"f":"fmm","R":1.396e-9},{"Q":0.04152,"f":"fmm","R":1.474e-9},{"Q":0.04246,"f":"fmm","R":1.626e-9},{"Q":0.04338,"f":"fmm","R":1.77e-9},{"Q":0.04426,"f":"fmm","R":1.924e-9},{"Q":0.04520,"f":"fmm","R":1.951e-9},{"Q":0.04611,"f":"fmm","R":1.964e-9},{"Q":0.04702,"f":"fmm","R":1.904e-9},{"Q":0.04798,"f":"fmm","R":1.77e-9},{"Q":0.04889,"f":"fmm","R":1.626e-9},
      {"Q":0.04980,"f":"fmm","R":1.527e-9},{"Q":0.05075,"f":"fmm","R":1.465e-9}
    ]
  },
  "spacing": 18,
  "resolve": {
    "scale": {"x": "independent", "y": "independent", "shape": "independent", "fill": "independent", "stroke": "independent", "strokeDash": "independent"},
    "legend": {"shape": "independent", "fill": "independent", "stroke": "independent", "strokeDash": "independent"}
  },
  "vconcat": [
    {
      "width": 1118,
      "height": 456,
      "title": {
        "text": "As-Grown Film",
        "subtitle": "\u2800S\u0332e\u0332t\u0332 \u0332A\u0332",
        "frame": "group", "anchor": "start", "align": "center", "dx": 940, "offset": -163,
        "font": "Liberation Sans", "fontSize": 21, "fontWeight": "normal", "color": "#0000ff",
        "subtitleFont": "Liberation Sans", "subtitleFontSize": 30, "subtitleFontWeight": "bold",
        "subtitleFontStyle": "italic", "subtitleColor": "#0000ff", "subtitlePadding": 94
      },
      "resolve": {"axis": {"x": "independent"}},
      "layer": [
        {
          "data": {"name": "grown"},
          "mark": {"type": "errorbar", "ticks": {"size": 9}, "color": "#0000ff", "thickness": 1.3},
          "encoding": {
            "x": {"field": "Q", "type": "quantitative",
                  "scale": {"domain": [0.005, 0.0521], "nice": false, "zero": false},
                  "axis": {"orient": "bottom", "values": [0.005,0.01,0.015,0.02,0.025,0.03,0.035,0.04,0.045,0.05], "labels": false, "tickSize": -7, "title": null}},
            "y": {"field": "R", "type": "quantitative",
                  "scale": {"type": "log", "domain": [9.03e-10, 1.6e-8], "nice": false},
                  "axis": {"orient": "left", "values": [1e-9,2e-9,3e-9,4e-9,5e-9,6e-9,7e-9,8e-9,9e-9,1e-8],
                           "labelExpr": "datum.value == 1e-8 ? '10\u207B\u2078' : (datum.value == 1e-9 ? '10\u207B\u2079' : '')",
                           "labelOverlap": false, "tickSize": 7, "labelPadding": 4,
                           "title": "Reflectivity x Q\u2074 (\u00C5\u207B\u2074)", "titlePadding": 4, "titleY": 244}},
            "yError": {"field": "e"}
          }
        },
        {
          "data": {"name": "grownFit"},
          "mark": {"type": "line", "interpolate": "monotone", "color": "#0000ff", "strokeWidth": 2},
          "encoding": {
            "x": {"field": "Q", "type": "quantitative",
                  "axis": {"orient": "top", "values": [0.005,0.01,0.015,0.02,0.025,0.03,0.035,0.04,0.045,0.05], "labels": false, "tickSize": -7, "title": null, "domain": false}},
            "y": {"field": "R", "type": "quantitative"},
            "strokeDash": {"field": "f", "type": "nominal",
                  "scale": {"domain": ["fpp", "fmm"], "range": [[1, 0], [4, 3]]},
                  "legend": {"title": null, "orient": "none", "legendX": 989, "legendY": 40,
                             "symbolType": "M-2,0H2", "symbolSize": 729, "symbolStrokeColor": "#0000ff", "symbolStrokeWidth": 2,
                             "labelOffset": 18, "rowPadding": 2, "labelColor": "#0000ff",
                             "labelExpr": "datum.label == 'fpp' ? 'fit to R\u208A\u208A' : 'fit to R\u208B\u208B'"}}
          }
        },
        {
          "data": {"name": "grown"},
          "mark": {"type": "point", "strokeWidth": 1.3, "opacity": 1, "size": 75},
          "encoding": {
            "x": {"field": "Q", "type": "quantitative", "axis": null},
            "y": {"field": "R", "type": "quantitative"},
            "shape": {"field": "s", "type": "nominal",
                      "scale": {"domain": ["pp", "mm"], "range": ["triangle-up", "square"]},
                      "legend": {"title": null, "orient": "none", "legendX": 775, "legendY": 45,
                                 "symbolSize": 90, "symbolStrokeWidth": 1.3,
                                 "labelOffset": 22, "rowPadding": 7, "labelColor": "#0000ff",
                                 "labelExpr": "datum.label == 'pp' ? 'measured R\u208A\u208A' : 'measured R\u208B\u208B'"}},
            "fill": {"field": "s", "type": "nominal",
                     "scale": {"domain": ["pp", "mm"], "range": ["#0000ff", "transparent"]},
                     "legend": {"title": null, "orient": "none", "legendX": 775, "legendY": 45,
                                "symbolSize": 90, "symbolStrokeWidth": 1.3,
                                "labelOffset": 22, "rowPadding": 7, "labelColor": "#0000ff",
                                "labelExpr": "datum.label == 'pp' ? 'measured R\u208A\u208A' : 'measured R\u208B\u208B'"}},
            "stroke": {"field": "s", "type": "nominal",
                       "scale": {"domain": ["pp", "mm"], "range": ["#0000ff", "#0000ff"]},
                       "legend": {"title": null, "orient": "none", "legendX": 775, "legendY": 45,
                                  "symbolSize": 90, "symbolStrokeWidth": 1.3,
                                  "labelOffset": 22, "rowPadding": 7, "labelColor": "#0000ff",
                                  "labelExpr": "datum.label == 'pp' ? 'measured R\u208A\u208A' : 'measured R\u208B\u208B'"}}
          }
        }
      ]
    },
    {
      "width": 1118,
      "height": 463,
      "title": {
        "text": "Annealed Film",
        "subtitle": "\u2800S\u0332e\u0332t\u0332 \u0332A\u0332",
        "frame": "group", "anchor": "start", "align": "center", "dx": 936, "offset": -160,
        "font": "Liberation Sans", "fontSize": 21, "fontWeight": "normal", "color": "#ff0000",
        "subtitleFont": "Liberation Sans", "subtitleFontSize": 30, "subtitleFontWeight": "bold",
        "subtitleFontStyle": "italic", "subtitleColor": "#ff0000", "subtitlePadding": 91
      },
      "resolve": {"axis": {"x": "independent"}},
      "layer": [
        {
          "data": {"name": "annealed"},
          "mark": {"type": "errorbar", "ticks": {"size": 9}, "color": "#ff0000", "thickness": 1.3},
          "encoding": {
            "x": {"field": "Q", "type": "quantitative",
                  "scale": {"domain": [0.005, 0.0521], "nice": false, "zero": false},
                  "axis": {"orient": "bottom", "values": [0.005,0.01,0.015,0.02,0.025,0.03,0.035,0.04,0.045,0.05],
                           "labelExpr": "round(datum.value * 1000) % 10 == 0 ? format(datum.value, '.2f') : ''",
                           "labelOverlap": false, "tickSize": 5, "labelPadding": 2,
                           "title": "Q (\u00C5\u207B\u00B9)", "titlePadding": 12}},
            "y": {"field": "R", "type": "quantitative",
                  "scale": {"type": "log", "domain": [8.65e-10, 1.61e-8], "nice": false},
                  "axis": {"orient": "left", "values": [1e-9,2e-9,3e-9,4e-9,5e-9,6e-9,7e-9,8e-9,9e-9,1e-8],
                           "labelExpr": "datum.value == 1e-8 ? '10\u207B\u2078' : (datum.value == 1e-9 ? '10\u207B\u2079' : '')",
                           "labelOverlap": false, "tickSize": 7, "labelPadding": 4,
                           "title": "Reflectivity x Q\u2074 (\u00C5\u207B\u2074)", "titlePadding": 4, "titleY": 246}},
            "yError": {"field": "e"}
          }
        },
        {
          "data": {"name": "annealedFit"},
          "mark": {"type": "line", "interpolate": "monotone", "color": "#ff0000", "strokeWidth": 2},
          "encoding": {
            "x": {"field": "Q", "type": "quantitative",
                  "axis": {"orient": "top", "values": [0.005,0.01,0.015,0.02,0.025,0.03,0.035,0.04,0.045,0.05], "labels": false, "tickSize": -7, "title": null, "domain": false}},
            "y": {"field": "R", "type": "quantitative"},
            "strokeDash": {"field": "f", "type": "nominal",
                  "scale": {"domain": ["fpp", "fmm"], "range": [[1, 0], [4, 3]]},
                  "legend": {"title": null, "orient": "none", "legendX": 989, "legendY": 41,
                             "symbolType": "M-2,0H2", "symbolSize": 729, "symbolStrokeColor": "#ff0000", "symbolStrokeWidth": 2,
                             "labelOffset": 18, "rowPadding": 2, "labelColor": "#ff0000",
                             "labelExpr": "datum.label == 'fpp' ? 'fit to R\u208A\u208A' : 'fit to R\u208B\u208B'"}}
          }
        },
        {
          "data": {"name": "annealed"},
          "mark": {"type": "point", "strokeWidth": 1.3, "opacity": 1, "size": 75},
          "encoding": {
            "x": {"field": "Q", "type": "quantitative", "axis": null},
            "y": {"field": "R", "type": "quantitative"},
            "shape": {"field": "s", "type": "nominal",
                      "scale": {"domain": ["pp", "mm"], "range": ["diamond", "circle"]},
                      "legend": {"title": null, "orient": "none", "legendX": 775, "legendY": 45,
                                 "symbolSize": 90, "symbolStrokeWidth": 1.3,
                                 "labelOffset": 22, "rowPadding": 7, "labelColor": "#ff0000",
                                 "labelExpr": "datum.label == 'pp' ? 'measured R\u208A\u208A' : 'measured R\u208B\u208B'"}},
            "fill": {"field": "s", "type": "nominal",
                     "scale": {"domain": ["pp", "mm"], "range": ["#ff0000", "transparent"]},
                     "legend": {"title": null, "orient": "none", "legendX": 775, "legendY": 45,
                                "symbolSize": 90, "symbolStrokeWidth": 1.3,
                                "labelOffset": 22, "rowPadding": 7, "labelColor": "#ff0000",
                                "labelExpr": "datum.label == 'pp' ? 'measured R\u208A\u208A' : 'measured R\u208B\u208B'"}},
            "stroke": {"field": "s", "type": "nominal",
                       "scale": {"domain": ["pp", "mm"], "range": ["#ff0000", "#ff0000"]},
                       "legend": {"title": null, "orient": "none", "legendX": 775, "legendY": 45,
                                  "symbolSize": 90, "symbolStrokeWidth": 1.3,
                                  "labelOffset": 22, "rowPadding": 7, "labelColor": "#ff0000",
                                  "labelExpr": "datum.label == 'pp' ? 'measured R\u208A\u208A' : 'measured R\u208B\u208B'"}}
          }
        }
      ]
    }
  ]
}
